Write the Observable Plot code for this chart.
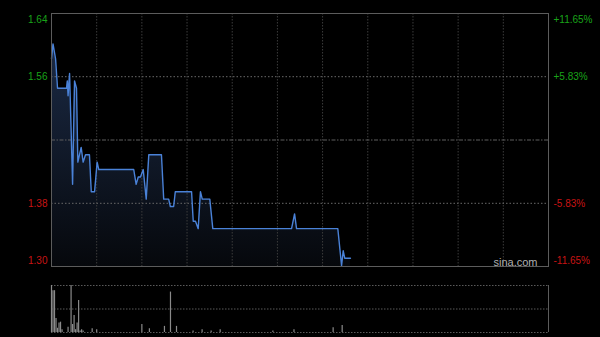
<!DOCTYPE html>
<html>
<head>
<meta charset="utf-8">
<script src="https://cdn.jsdelivr.net/npm/d3@7"></script>
<script src="https://cdn.jsdelivr.net/npm/@observablehq/plot@0.6"></script>
<style>
  html, body { margin: 0; padding: 0; background: #000; }
  #wrap { position: relative; width: 600px; height: 337px; background: #000; overflow: hidden; }
  #wrap > div, #wrap > svg { position: absolute; left: 0; }
</style>
</head>
<body>
<div id="wrap"></div>
<script>
// ---- data (minutes after 09:30, HK session of 330 minutes) ----
const prevClose = 1.47;
const minutes = [0, 1, 2.7, 4, 10, 10.5, 11, 12, 14, 15.3, 16.6, 17.5, 19.7, 21, 22.6, 25.2, 26.4, 28.6, 30.3, 31.4,
  54.6, 56.2, 57.6, 59.1, 60.9, 62.9, 64.6, 73, 74.5, 77.8, 78.9, 81.1, 82.2, 93, 94.1, 95.6, 97.4, 98.9, 100.1,
  105.1, 107.1, 159.4, 161.4, 162.7, 190.1, 192.6, 193.7, 194.7, 198.5];
const prices = [1.58, 1.60, 1.58, 1.54, 1.54, 1.55, 1.53, 1.56, 1.41, 1.55, 1.54, 1.44, 1.46, 1.44, 1.45, 1.45, 1.40, 1.40, 1.44, 1.43,
  1.43, 1.41, 1.42, 1.42, 1.43, 1.39, 1.45, 1.45, 1.39, 1.39, 1.38, 1.38, 1.40, 1.40, 1.36, 1.36, 1.35, 1.40, 1.39,
  1.39, 1.35, 1.35, 1.37, 1.35, 1.35, 1.30, 1.32, 1.31, 1.31];
const volMinutes = [0, 1, 2, 3, 4, 5, 6, 7, 11, 13, 14, 15, 16, 17, 18, 19, 20, 21, 27, 30, 60, 65, 75, 79, 83, 94, 100, 106, 112, 147, 161, 187, 193];
const volumes =    [100, 89, 89, 30, 9, 20, 22, 6, 11, 100, 17, 36, 6, 20, 68, 3, 6, 3, 8, 6, 17, 8, 13, 86, 13, 3, 6, 3, 6, 3, 6, 10, 15];
const pctLevels = [0.1165, 0.0583, -0.0583, -0.1165];
const rightLabels = ["+11.65%", "+5.83%", "-5.83%", "-11.65%"];
const gridMinutes = d3.range(30, 330, 30);

const priceData = minutes.map((m, i) => ({m, p: prices[i]}));
const volData = volMinutes.map((m, i) => ({m, v: volumes[i]}));
const levels = pctLevels.map((k, i) => ({v: prevClose * (1 + k), left: (prevClose * (1 + k)).toFixed(2), right: rightLabels[i], up: k > 0}));
const yTop = prevClose * (1 + pctLevels[0]);
const yBot = prevClose * (1 + pctLevels[3]);

const font = "'Liberation Sans', Arial, sans-serif";
const green = "#19a319", red = "#c81414";

function gradientDefs() {
  const ns = "http://www.w3.org/2000/svg";
  const d = document.createElementNS(ns, "defs");
  d.innerHTML = '<linearGradient id="pfill" x1="0" y1="0" x2="0" y2="1">' +
    '<stop offset="0" stop-color="#1b2a45"/><stop offset="1" stop-color="#06080c"/></linearGradient>';
  return d;
}

const labelOpts = (extra) => Object.assign({y: "v", fontSize: 10, fontFamily: font}, extra);

const main = Plot.plot({
  width: 600, height: 270,
  marginTop: 13, marginBottom: 4, marginLeft: 51, marginRight: 52,
  style: {background: "transparent", fontFamily: font, fontSize: "10px", overflow: "visible"},
  x: {domain: [0, 330], axis: null},
  y: {domain: [yBot, yTop], axis: null},
  marks: [
    gradientDefs,
    Plot.areaY(priceData, {x: "m", y1: yBot, y2: "p", fill: "url(#pfill)"}),
    Plot.ruleX(gridMinutes, {stroke: "#3c3c3c", strokeDasharray: "1.5,1.5"}),
    Plot.ruleY([levels[1].v, levels[2].v], {stroke: "#6a6a6a", strokeDasharray: "1.5,2"}),
    Plot.ruleY([prevClose], {stroke: "#5e5e5e", strokeDasharray: "4,1.5,1.5,1.5"}),
    Plot.lineY(priceData, {x: "m", y: "p", stroke: "#4a82d8", strokeWidth: 1.4}),
    Plot.frame({stroke: "#5c5c5c"}),
    // left price labels
    Plot.text(levels.slice(0, 1), labelOpts({text: "left", frameAnchor: "left", textAnchor: "end", dx: -4, dy: 6, fill: green})),
    Plot.text(levels.slice(1, 2), labelOpts({text: "left", frameAnchor: "left", textAnchor: "end", dx: -4, fill: green})),
    Plot.text(levels.slice(2, 3), labelOpts({text: "left", frameAnchor: "left", textAnchor: "end", dx: -4, fill: red})),
    Plot.text(levels.slice(3, 4), labelOpts({text: "left", frameAnchor: "left", textAnchor: "end", dx: -4, dy: -6, fill: red})),
    // right percent labels
    Plot.text(levels.slice(0, 1), labelOpts({text: "right", frameAnchor: "right", textAnchor: "start", dx: 5, dy: 6, fill: green})),
    Plot.text(levels.slice(1, 2), labelOpts({text: "right", frameAnchor: "right", textAnchor: "start", dx: 5, fill: green})),
    Plot.text(levels.slice(2, 3), labelOpts({text: "right", frameAnchor: "right", textAnchor: "start", dx: 5, fill: red})),
    Plot.text(levels.slice(3, 4), labelOpts({text: "right", frameAnchor: "right", textAnchor: "start", dx: 5, dy: -6, fill: red})),
    Plot.text(["sina.com"], {frameAnchor: "bottom-right", textAnchor: "end", lineAnchor: "bottom", dx: -11, dy: -1, fill: "#b0b0b0", fontSize: 11, fontFamily: font})
  ]
});
main.style.top = "0px";

const vol = Plot.plot({
  width: 600, height: 67,
  marginTop: 15, marginBottom: 5, marginLeft: 51, marginRight: 52,
  style: {background: "transparent", fontFamily: font, overflow: "visible"},
  x: {domain: [0, 330], axis: null},
  y: {domain: [0, 100], axis: null},
  marks: [
    Plot.ruleY([0, 50, 100], {stroke: "#5a5a5a", strokeDasharray: "1.5,1.5"}),
    Plot.ruleX([0, 330], {stroke: "#5c5c5c"}),
    Plot.ruleX(volData, {x: "m", y1: 0, y2: "v", stroke: "#8a8a8a", strokeWidth: 1.2})
  ]
});
vol.style.top = "270px";

const wrap = document.getElementById("wrap");
wrap.appendChild(main);
wrap.appendChild(vol);
</script>
</body>
</html>
